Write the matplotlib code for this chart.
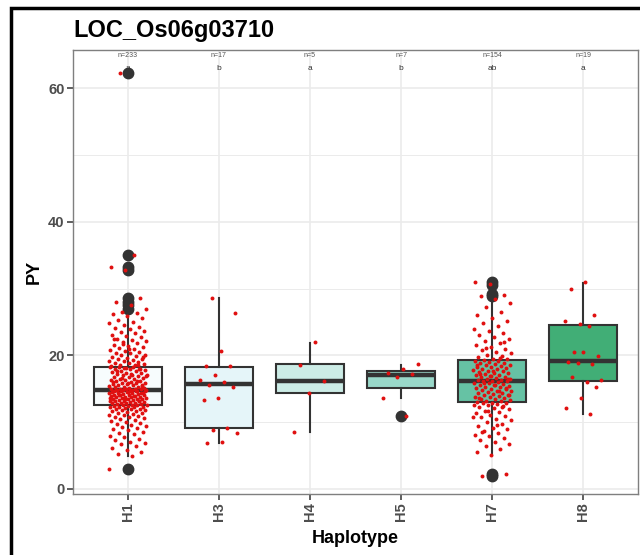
import numpy as np
import matplotlib
matplotlib.use("Agg")
import matplotlib.pyplot as plt
from matplotlib.patches import Rectangle

plt.rcParams['font.family'] = ['Liberation Sans', 'DejaVu Sans']

# Haplotype groups and the plotted PY values
haplotypes = ['H1', 'H3', 'H4', 'H5', 'H7', 'H8']
fill_colors = ['#f7fcfd', '#e5f5f9', '#ccece6', '#99d8c9', '#66c2a4', '#41ae76']
n_labels = ['n=233', 'n=17', 'n=5', 'n=7', 'n=154', 'n=19']
sig_letters = ['a', 'b', 'a', 'b', 'ab', 'a']

py_h1 = [
    3.0, 4.9, 5.2, 5.6, 5.9, 6.1, 6.4, 6.7, 6.9, 7.1,
    7.3, 7.5, 7.8, 8.0, 8.2, 8.4, 8.6, 8.8, 9.0, 9.2,
    9.3, 9.5, 9.6, 9.8, 9.9, 10.0, 10.2, 10.3, 10.4, 10.6,
    10.7, 10.8, 10.9, 11.0, 11.1, 11.2, 11.3, 11.4, 11.5, 11.6,
    11.7, 11.8, 11.8, 11.9, 12.0, 12.0, 12.1, 12.2, 12.2, 12.3,
    12.3, 12.4, 12.4, 12.5, 12.5, 12.6, 12.6, 12.7, 12.7, 12.8,
    12.8, 12.9, 12.9, 13.0, 13.0, 13.1, 13.1, 13.2, 13.2, 13.3,
    13.3, 13.4, 13.4, 13.5, 13.5, 13.6, 13.6, 13.7, 13.7, 13.8,
    13.8, 13.9, 13.9, 14.0, 14.0, 14.1, 14.1, 14.2, 14.2, 14.3,
    14.3, 14.4, 14.4, 14.5, 14.5, 14.6, 14.6, 14.7, 14.7, 14.8,
    13.1, 13.4, 13.6, 13.9, 14.1, 14.3, 14.5, 14.6, 14.7, 14.8,
    14.8, 14.8, 14.8, 14.9, 14.9, 14.9, 15.0, 15.0, 15.1, 15.1,
    15.2, 15.3, 15.3, 15.4, 15.5, 15.5, 15.6, 15.7, 15.7, 15.8,
    15.9, 15.9, 16.0, 16.1, 16.2, 16.3, 16.3, 16.4, 16.5, 16.6,
    16.7, 16.8, 16.9, 17.0, 17.0, 17.1, 17.2, 17.3, 17.4, 17.5,
    17.6, 17.7, 17.8, 17.9, 18.0, 18.0, 18.1, 18.2, 18.2, 18.3,
    15.4, 15.8, 16.0, 16.2, 16.6, 16.9, 17.2, 17.6, 17.9, 18.1,
    18.4, 18.5, 18.6, 18.7, 18.8, 18.9, 19.0, 19.1, 19.2, 19.3,
    19.4, 19.5, 19.6, 19.8, 19.9, 20.0, 20.1, 20.3, 20.4, 20.5,
    20.7, 20.8, 21.0, 21.1, 21.3, 21.4, 21.6, 21.8, 22.0, 22.1,
    22.3, 22.5, 22.7, 22.9, 23.1, 23.3, 23.5, 23.7, 23.9, 24.1,
    24.3, 24.5, 24.8, 25.0, 25.3, 25.6, 25.9, 26.2, 26.4, 26.5,
    27.0, 27.5, 28.0, 28.6, 32.8, 33.2, 35.0, 62.2, 19.7, 20.9,
    22.4, 18.6, 21.7,
]
py_h3 = [28.6, 26.4, 20.7, 18.35, 18.35, 17.1, 16.3, 16.05, 15.6, 15.2,
         13.55, 13.35, 9.2, 8.9, 8.4, 7.1, 6.95]
py_h4 = [21.95, 18.6, 16.1, 14.35, 8.6]
py_h5 = [18.7, 17.95, 17.35, 17.2, 16.75, 13.6, 10.95]
py_h7 = [
    2.0, 2.3, 5.1, 5.6, 6.0, 6.4, 6.8, 7.1, 7.3, 7.6,
    7.9, 8.1, 8.4, 8.7, 9.0, 9.2, 9.5, 9.8, 10.0, 10.3,
    10.5, 10.7, 10.9, 11.1, 11.3, 11.5, 11.7, 11.9, 12.1, 12.3,
    12.4, 12.5, 12.6, 12.7, 12.8, 12.9, 12.9, 13.0, 13.1, 13.2,
    13.3, 13.4, 13.5, 13.6, 13.7, 13.8, 13.9, 14.0, 14.1, 14.2,
    14.3, 14.4, 14.5, 14.6, 14.7, 14.8, 14.9, 15.0, 15.1, 15.2,
    15.3, 15.4, 15.5, 15.6, 15.7, 15.8, 15.9, 16.0, 16.1, 16.2,
    16.2, 16.3, 16.3, 16.4, 16.5, 16.6, 16.7, 16.8, 16.9, 17.0,
    17.1, 17.2, 17.3, 17.4, 17.5, 17.6, 17.7, 17.8, 17.9, 18.0,
    18.1, 18.2, 18.3, 18.4, 18.5, 18.6, 18.7, 18.8, 18.9, 19.0,
    19.1, 19.2, 19.3, 19.4, 19.5, 19.7, 19.9, 20.1, 20.3, 20.5,
    20.8, 21.0, 21.3, 21.6, 21.9, 22.2, 22.5, 22.8, 23.1, 23.4,
    23.7, 24.0, 24.4, 24.8, 25.2, 25.6, 26.0, 26.5, 27.2, 27.9,
    28.4, 28.9, 29.1, 30.7, 31.0, 14.6, 15.8, 16.4, 17.6, 13.6,
    12.2, 11.6, 10.8, 9.6, 8.6, 15.1, 16.9, 18.5, 19.6, 21.1,
    14.1, 15.5, 17.2, 22.0,
]
py_h8 = [30.95, 29.95, 26.0, 24.7, 25.1, 24.4, 20.55, 19.95, 20.45, 18.95,
         18.7, 18.8, 16.35, 16.05, 16.8, 15.3, 13.6, 12.05, 11.2]
py_values = [py_h1, py_h3, py_h4, py_h5, py_h7, py_h8]

# box summaries
q1 = [12.6, 9.2, 14.35, 15.1, 12.95, 16.15]
median = [14.85, 15.7, 16.1, 17.0, 16.2, 19.1]
q3 = [18.2, 18.3, 18.7, 17.65, 19.3, 24.6]
whis_lo = [4.95, 6.95, 8.6, 13.6, 5.05, 11.2]
whis_hi = [26.5, 28.6, 21.85, 18.55, 28.4, 30.9]
outliers = [[3.0, 27.0, 27.5, 28.0, 28.6, 32.8, 33.2, 35.0, 62.2],
            [], [], [10.95],
            [2.0, 2.3, 28.85, 29.2, 30.5, 31.0],
            []]

fig = plt.figure(figsize=(6.4, 5.55), dpi=100)
ax = fig.add_axes([73 / 640, 61 / 555, 565 / 640, 444 / 555])

pos = np.arange(len(haplotypes))
stats = []
for i in range(len(haplotypes)):
    stats.append(dict(med=median[i], q1=q1[i], q3=q3[i], whislo=whis_lo[i],
                      whishi=whis_hi[i], fliers=outliers[i]))

bp = ax.bxp(stats, positions=pos, widths=0.75, patch_artist=True,
            showcaps=False, zorder=3,
            boxprops=dict(edgecolor='#333333', linewidth=1.5),
            whiskerprops=dict(color='#333333', linewidth=1.5),
            medianprops=dict(color='#333333', linewidth=3.2),
            flierprops=dict(marker='o', markerfacecolor='#333333',
                            markeredgecolor='#333333', markersize=7.5))
for patch, c in zip(bp['boxes'], fill_colors):
    patch.set_facecolor(c)

# jittered points (deterministic spread)
for i, vals in enumerate(py_values):
    k = np.arange(len(vals))
    offs = ((k * 0.6180339887 + 0.31 * i) % 1.0 - 0.5) * 0.42
    ax.scatter(pos[i] + offs, vals, s=8, color='#e01010', zorder=4,
               linewidths=0)

for i in range(len(haplotypes)):
    ax.text(pos[i], 64.9, n_labels[i], ha='center', va='center',
            fontsize=5, color='#555555', zorder=5)
    ax.text(pos[i], 62.9, sig_letters[i], ha='center', va='center',
            fontsize=6, color='#333333', zorder=5)

ax.set_xlim(-0.6, len(haplotypes) - 0.4)
ax.set_ylim(-0.75, 65.7)
ax.set_xticks(pos)
ax.set_xticklabels(haplotypes, rotation=90)
ax.set_yticks([0, 20, 40, 60])
ax.set_yticks([10, 30, 50], minor=True)
ax.grid(True, which='major', color='#ebebeb', linewidth=1.2, zorder=0)
ax.grid(True, which='minor', axis='y', color='#ebebeb', linewidth=0.7, zorder=0)
ax.set_axisbelow(True)
ax.tick_params(axis='both', which='major', length=4, width=1.1,
               color='#333333', labelsize=10.5, labelcolor='#4d4d4d', pad=2)
ax.tick_params(axis='y', which='minor', length=0)
for lab in ax.get_xticklabels() + ax.get_yticklabels():
    lab.set_fontweight('bold')
for sp in ax.spines.values():
    sp.set_color('#7f7f7f')
    sp.set_linewidth(1.0)

ax.set_xlabel('Haplotype', fontsize=13, fontweight='bold', labelpad=6)
ax.set_ylabel('PY', fontsize=13, fontweight='bold', labelpad=4)
fig.text(73 / 640, 1 - 30 / 555, 'LOC_Os06g03710', fontsize=17,
         fontweight='bold', ha='left', va='center')

# outer frame of the panel figure
fig.patches.append(Rectangle((11 / 640, -0.1), 1.2, 1 - 8 / 555 + 0.1,
                             transform=fig.transFigure, fill=False,
                             edgecolor='black', linewidth=2.5))

fig.savefig('out.png', dpi=100)
